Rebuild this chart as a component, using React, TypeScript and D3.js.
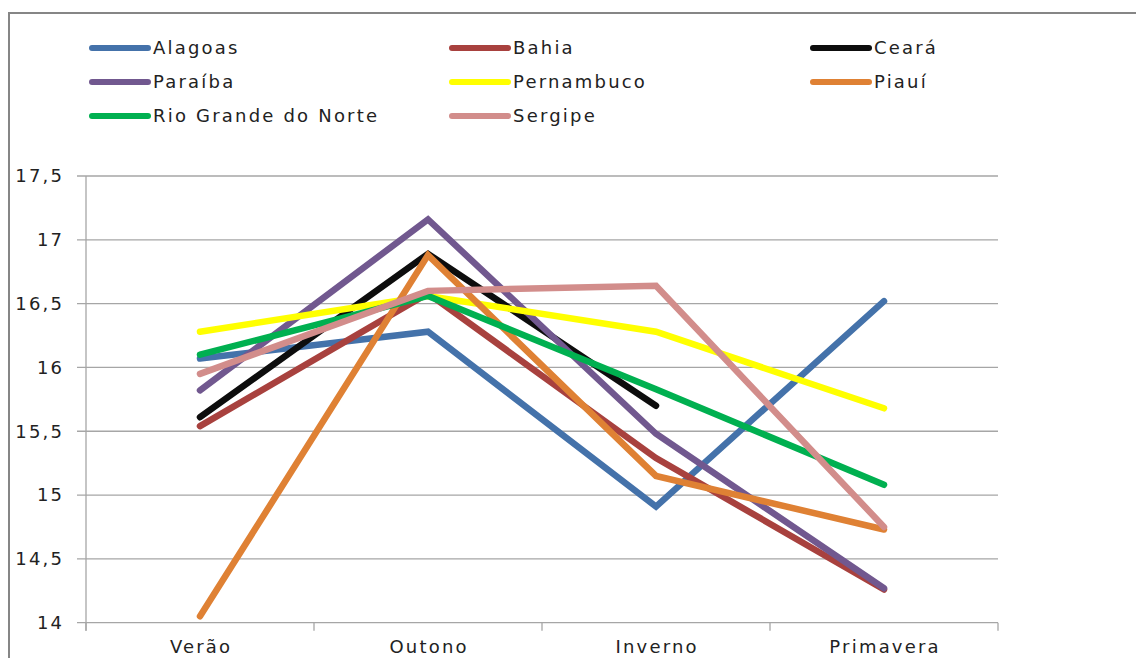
import React from "react";
import * as d3 from "d3";

const categories = ["Verão", "Outono", "Inverno", "Primavera"];
const seriesNames = ["Alagoas", "Bahia", "Ceará", "Paraíba", "Pernambuco", "Piauí", "Rio Grande do Norte", "Sergipe"];
const alagoas = [16.07, 16.28, 14.91, 16.52];
const bahia = [15.54, 16.58, 15.29, 14.26];
const ceara: (number | null)[] = [15.61, 16.89, 15.7, null];
const paraiba = [15.82, 17.16, 15.48, 14.27];
const pernambuco = [16.28, 16.56, 16.28, 15.68];
const piaui = [14.05, 16.88, 15.15, 14.73];
const rioGrandeDoNorte = [16.1, 16.56, 15.83, 15.08];
const sergipe = [15.95, 16.6, 16.64, 14.75];
const yTicks = [14, 14.5, 15, 15.5, 16, 16.5, 17, 17.5];
const colors = ["#4472AA", "#A8413E", "#0D0D0D", "#71588F", "#FFFF00", "#DF8134", "#00B050", "#D28D8B"];

const allValues = [alagoas, bahia, ceara, paraiba, pernambuco, piaui, rioGrandeDoNorte, sergipe];

export default function App() {
  const W = 1136, H = 658;
  const left = 86, right = 998, top = 176, bottom = 622.7;
  const x = d3.scaleBand<string>().domain(categories).range([left, right]);
  const y = d3.scaleLinear().domain([14, 17.5]).range([bottom, top]);
  const line = d3
    .line<number | null>()
    .defined((d) => d !== null)
    .x((_, i) => (x(categories[i]) as number) + x.bandwidth() / 2)
    .y((d) => y(d as number));
  const fmt = (v: number) => String(v).replace(".", ",");
  const font = "'DejaVu Sans', sans-serif";
  const fs = 18;
  const ls = 2.2;
  const legendCols = [92, 452, 813];
  const legendRows = [48, 82, 116];
  const tickXs = [...categories.map((c) => x(c) as number), right];
  return (
    <svg width={W} height={H} style={{ position: "absolute", left: 0, top: 0, background: "#fff" }}>
      <rect x={9} y={13} width={1140} height={660} fill="#fff" stroke="#868686" strokeWidth={2} />
      {yTicks.map((t) => (
        <g key={t}>
          <line x1={77} x2={right} y1={y(t)} y2={y(t)} stroke="#A6A6A6" strokeWidth={1.3} />
          <text x={62 + ls} y={y(t)} dy="0.35em" textAnchor="end" fontFamily={font} fontSize={fs} letterSpacing={ls} fill="#222">
            {fmt(t)}
          </text>
        </g>
      ))}
      <line x1={left} x2={left} y1={top} y2={bottom + 8} stroke="#A6A6A6" strokeWidth={1.3} />
      {tickXs.map((tx, i) => (
        <line key={i} x1={tx} x2={tx} y1={bottom} y2={bottom + 8} stroke="#A6A6A6" strokeWidth={1.3} />
      ))}
      {categories.map((c) => (
        <text key={c} x={(x(c) as number) + x.bandwidth() / 2 + ls / 2} y={647} dy="0.35em" textAnchor="middle" fontFamily={font} fontSize={fs} letterSpacing={ls} fill="#222">
          {c}
        </text>
      ))}
      {allValues.map((vals, i) => (
        <path
          key={seriesNames[i]}
          d={line(vals as (number | null)[]) || ""}
          fill="none"
          stroke={colors[i]}
          strokeWidth={6.5}
          strokeLinecap="round"
          strokeLinejoin="miter"
        />
      ))}
      {seriesNames.map((n, i) => {
        const lx = legendCols[i % 3];
        const ly = legendRows[Math.floor(i / 3)];
        return (
          <g key={n}>
            <line x1={lx} x2={lx + 56} y1={ly} y2={ly} stroke={colors[i]} strokeWidth={6} strokeLinecap="round" />
            <text x={lx + 61} y={ly} dy="0.35em" fontFamily={font} fontSize={fs} letterSpacing={ls} fill="#222">
              {n}
            </text>
          </g>
        );
      })}
    </svg>
  );
}
